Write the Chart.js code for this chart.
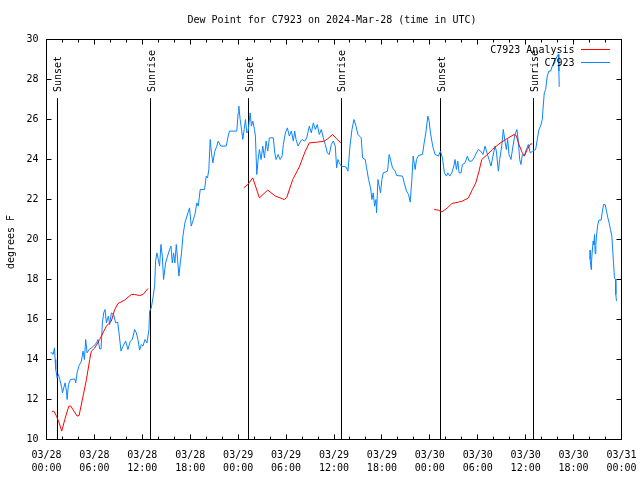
<!DOCTYPE html>
<html>
<head>
<meta charset="utf-8">
<script src="https://cdn.jsdelivr.net/npm/chart.js@4/dist/chart.umd.min.js"></script>
<style>
html,body{margin:0;padding:0;background:#fff;}
canvas{display:block;}
</style>
</head>
<body>
<canvas id="c" width="640" height="480"></canvas>
<script>
// ---- data (hours since 2024-03-28 00:00 UTC, degrees F) ----
const obsHours = [0.50,0.75,0.83,1.00,1.08,1.16,1.33,1.50,1.66,1.91,2.00,2.16,2.33,2.50,2.58,2.75,3.00,3.54,3.66,3.83,4.08,4.37,4.58,4.75,4.91,5.08,5.33,5.62,5.91,6.25,6.45,6.66,6.83,7.00,7.16,7.33,7.50,7.75,7.91,8.12,8.41,8.66,8.91,9.08,9.33,9.58,9.91,10.20,10.50,10.75,11.04,11.25,11.45,11.66,11.87,12.08,12.33,12.58,12.83,12.91,13.12,13.33,13.54,13.66,13.83,14.00,14.16,14.33,14.50,14.66,14.91,15.16,15.41,15.58,15.75,15.91,16.08,16.25,16.41,16.58,16.75,16.91,17.08,17.33,17.58,17.91,18.12,18.33,18.58,18.83,19.00,19.25,19.79,20.00,20.16,20.33,20.50,20.66,20.83,21.08,21.33,21.50,21.83,22.50,22.75,22.91,23.83,24.00,24.08,24.25,24.37,24.58,24.75,24.91,25.08,25.25,25.50,25.66,25.83,26.04,26.16,26.33,26.50,26.66,26.87,27.08,27.29,27.50,27.70,27.91,28.41,28.58,28.75,29.00,29.25,29.50,29.66,29.91,30.16,30.41,30.66,30.91,31.08,31.25,31.50,31.83,32.00,32.33,32.58,32.91,33.16,33.41,33.66,33.91,34.16,34.41,34.66,34.91,35.16,35.41,35.66,35.91,36.16,36.33,36.50,36.66,36.91,37.50,37.75,38.00,38.25,38.50,38.75,39.00,39.41,39.58,39.91,40.08,40.33,40.58,40.75,40.91,41.08,41.25,41.33,41.50,41.66,41.83,42.00,42.16,42.70,42.91,43.12,43.33,43.66,43.83,44.58,44.79,45.08,45.33,45.54,45.75,45.91,46.16,46.33,46.58,47.08,47.29,47.50,47.75,47.91,48.08,48.25,48.41,48.66,49.08,49.33,49.58,49.83,50.08,50.25,50.50,50.75,51.00,51.16,51.33,51.50,51.66,51.91,52.08,52.41,52.70,52.91,53.25,53.54,53.83,54.08,54.37,54.66,54.91,55.16,55.41,55.66,55.91,56.16,56.33,56.58,56.75,57.00,57.20,57.41,57.58,57.75,57.91,58.16,58.41,58.66,58.91,59.08,59.25,59.41,59.58,59.83,60.08,60.33,60.58,60.83,61.25,61.45,61.66,61.87,62.08,62.20,62.33,62.50,62.70,62.91,63.12,63.33,63.54,63.75,63.95,64.08,64.16,64.20,
  66.00,
  68.07,68.08,68.20,68.25,68.33,68.45,68.54,68.62,68.70,68.79,68.87,69.00,69.16,69.45,69.58,69.75,69.95,70.12,70.29,70.45,70.62,70.79,70.87,71.00,71.12,71.25,71.29,71.37];
const obsDewF = [14.33,14.33,14.25,14.58,14.00,13.50,13.08,13.25,13.00,12.58,12.33,12.58,12.83,12.42,12.00,12.75,13.00,13.03,12.83,13.33,13.70,13.92,14.42,14.00,15.00,14.33,14.50,14.58,14.67,14.83,15.00,14.53,14.53,15.83,16.33,16.50,15.83,16.17,15.75,16.33,16.25,15.83,15.87,15.33,14.42,14.67,14.92,14.50,14.92,15.00,15.50,15.33,15.00,14.47,14.75,14.67,15.00,14.83,15.50,16.42,16.58,17.08,17.67,18.92,19.33,19.00,18.67,19.75,19.17,18.00,18.83,19.17,19.50,19.67,18.83,19.33,18.83,19.75,19.00,18.17,18.83,19.33,20.17,20.83,21.17,21.58,20.67,20.92,21.25,21.83,21.67,22.50,22.50,23.17,23.08,23.50,25.00,24.33,23.83,24.42,24.67,24.92,24.67,24.67,25.17,25.42,25.42,26.33,26.67,26.00,25.67,25.00,25.50,26.00,25.33,25.42,26.33,25.67,25.92,25.50,25.17,23.25,24.00,24.50,24.00,24.67,24.08,24.92,24.42,25.08,25.08,24.33,24.00,24.25,24.00,24.17,24.75,25.33,25.58,25.17,25.42,24.92,25.42,25.00,24.67,24.92,25.00,24.92,25.08,25.67,25.33,25.83,25.50,25.75,25.25,25.50,25.08,24.75,24.33,24.25,24.75,24.92,24.67,23.58,24.00,23.83,23.67,23.63,23.42,24.67,25.50,26.00,25.67,25.25,25.08,24.08,24.00,23.58,23.00,22.58,22.00,22.33,21.67,22.00,21.33,23.00,22.67,22.33,23.00,23.33,23.42,24.25,23.92,23.58,23.42,23.20,23.17,22.83,22.42,22.25,21.87,23.00,24.17,23.50,24.00,24.20,24.25,24.83,25.33,26.17,25.92,25.33,24.92,24.58,24.25,24.17,24.42,24.08,23.33,23.17,23.33,23.17,23.33,23.67,24.00,23.50,23.92,23.33,23.33,23.75,23.83,24.17,23.92,23.92,24.08,24.33,24.50,24.42,24.25,24.67,24.33,24.00,23.67,24.17,24.67,24.42,23.42,24.00,24.67,25.50,24.92,24.50,25.00,24.25,24.00,24.67,25.25,25.50,24.92,24.00,23.75,24.25,24.17,24.50,24.75,24.33,24.40,24.50,25.00,25.50,25.67,26.00,26.67,27.33,27.50,28.17,28.42,28.42,28.67,28.75,29.00,29.17,29.25,28.42,27.63,
  null,
  19.47,19.00,18.50,18.92,19.37,19.92,19.75,20.25,19.30,19.75,20.17,20.67,20.97,20.97,21.33,21.75,21.75,21.42,21.08,20.83,20.50,20.17,19.67,18.83,18.08,18.00,17.25,16.92];

const anaHours = [0.66,0.91,1.25,1.50,1.91,2.29,2.79,3.04,3.83,4.08,4.58,5.00,5.41,5.62,6.04,6.66,7.50,8.12,8.54,8.95,9.79,10.62,11.04,11.66,12.08,12.70,
  18.0,
  24.70,25.20,25.83,26.66,27.70,28.66,29.79,30.08,30.83,31.66,32.08,32.41,32.91,33.95,34.79,35.20,35.83,36.33,36.87,
  42.0,
  48.54,49.04,49.54,50.20,50.75,51.58,52.08,52.83,53.33,53.75,54.16,54.50,55.20,55.83,56.66,57.50,58.54,58.83,59.08,59.58,59.87,60.20,60.62,60.83];
const anaDewF = [11.38,11.42,11.17,10.92,10.42,11.00,11.67,11.67,11.17,11.20,12.17,13.00,14.00,14.42,14.58,15.00,15.67,15.92,16.50,16.80,16.97,17.25,17.25,17.20,17.25,17.55,
  null,
  22.58,22.75,23.08,22.08,22.47,22.17,22.00,22.10,23.00,23.63,24.08,24.42,24.83,24.87,24.92,25.03,25.25,25.03,24.83,
  null,
  21.50,21.47,21.38,21.58,21.80,21.87,21.92,22.08,22.50,22.83,23.42,24.00,24.25,24.50,24.78,25.00,25.25,25.20,24.83,24.33,24.20,24.50,24.78,24.78];

const sunEventLabels = ['Sunset','Sunrise','Sunset','Sunrise','Sunset','Sunrise'];
const sunEventHours  = [1.377, 13.023, 25.294, 36.939, 49.336, 60.981];
const sunLineTop = 27.05;

const tickDates = ['03/28','03/28','03/28','03/28','03/29','03/29','03/29','03/29','03/30','03/30','03/30','03/30','03/31'];
const tickTimes = ['00:00','06:00','12:00','18:00','00:00','06:00','12:00','18:00','00:00','06:00','12:00','18:00','00:00'];

const titleText = 'Dew Point for C7923 on 2024-Mar-28 (time in UTC)';
const yAxisTitle = 'degrees F';
const seriesNames = ['C7923 Analysis', 'C7923'];
const seriesColors = ['#ff0000', '#0a84ff'];

// ---- build datasets ----
const toXY = (xs, ys) => xs.map((x, i) => ({x: x, y: ys[i]}));
const datasets = [
  {label: seriesNames[0], data: toXY(anaHours, anaDewF), borderColor: seriesColors[0], borderWidth: 1, pointRadius: 0, tension: 0, spanGaps: false},
  {label: seriesNames[1], data: toXY(obsHours, obsDewF), borderColor: seriesColors[1], borderWidth: 1, pointRadius: 0, tension: 0, spanGaps: false}
];
sunEventHours.forEach(h => {
  datasets.push({label: '_sun', data: [{x: h, y: sunLineTop}, {x: h, y: 10}], borderColor: '#000', borderWidth: 1, pointRadius: 0});
});

const FONT = '"DejaVu Sans Mono", "Liberation Mono", monospace';

const decor = {
  id: 'decor',
  afterDraw(chart) {
    const ctx = chart.ctx;
    const a = chart.chartArea;
    const xs = chart.scales.x, ys = chart.scales.y;
    ctx.save();
    ctx.strokeStyle = '#000';
    ctx.lineWidth = 1;
    // frame
    ctx.strokeRect(a.left, a.top, a.right - a.left, a.bottom - a.top);
    ctx.beginPath();
    // x ticks: major every 6h, minor every 2h
    for (let h = 0; h <= 72; h += 2) {
      const px = Math.round(xs.getPixelForValue(h) - 0.5) + 0.5;
      const len = (h % 6 === 0) ? 5 : 3;
      ctx.moveTo(px, a.bottom); ctx.lineTo(px, a.bottom - len);
      ctx.moveTo(px, a.top); ctx.lineTo(px, a.top + len);
    }
    for (let v = 10; v <= 30; v += 2) {
      const py = Math.round(ys.getPixelForValue(v) - 0.5) + 0.5;
      ctx.moveTo(a.left, py); ctx.lineTo(a.left + 5, py);
      ctx.moveTo(a.right, py); ctx.lineTo(a.right - 5, py);
    }
    ctx.stroke();

    ctx.fillStyle = '#000';
    ctx.font = '10px ' + FONT;
    // title
    ctx.textAlign = 'center';
    ctx.textBaseline = 'alphabetic';
    ctx.fillText(titleText, 332, 23.3);
    // y axis title
    ctx.save();
    ctx.translate(14.3, 242);
    ctx.rotate(-Math.PI / 2);
    ctx.fillText(yAxisTitle, 0, 0);
    ctx.restore();
    // sun event labels
    sunEventHours.forEach((h, i) => {
      const px = xs.getPixelForValue(h);
      ctx.save();
      ctx.translate(px + 4, 92);
      ctx.rotate(-Math.PI / 2);
      ctx.textAlign = 'left';
      ctx.fillText(sunEventLabels[i], 0, 0);
      ctx.restore();
    });
    // legend
    ctx.textAlign = 'right';
    seriesNames.forEach((name, i) => {
      const base = 53 + i * 12.7;
      ctx.fillStyle = '#000';
      ctx.fillText(name, 574.5, base);
      ctx.strokeStyle = seriesColors[i];
      ctx.beginPath();
      const ly = Math.round(base - 3.7) + 0.5;
      ctx.moveTo(581, ly); ctx.lineTo(610, ly);
      ctx.stroke();
    });
    ctx.restore();
  }
};

new Chart(document.getElementById('c'), {
  type: 'line',
  data: {datasets: datasets},
  options: {
    responsive: false,
    animation: false,
    devicePixelRatio: 1,
    layout: {padding: {left: 0, right: 18.5, top: 39.5, bottom: 0}},
    plugins: {legend: {display: false}, title: {display: false}, tooltip: {enabled: false}},
    scales: {
      x: {
        type: 'linear', min: 0, max: 72,
        grid: {display: false, drawTicks: false},
        border: {display: false},
        ticks: {
          stepSize: 6, autoSkip: false, maxRotation: 0, padding: 10,
          color: '#000', font: {family: FONT, size: 10, lineHeight: 1.27},
          callback: (v) => { const i = Math.round(v / 6); return [tickDates[i], tickTimes[i]]; }
        },
        afterFit: (s) => { s.height = 40.5; s.paddingLeft = 0; s.paddingRight = 0; }
      },
      y: {
        type: 'linear', min: 10, max: 30,
        grid: {display: false, drawTicks: false},
        border: {display: false},
        ticks: {stepSize: 2, padding: 8, color: '#000', font: {family: FONT, size: 10}},
        afterFit: (s) => { s.width = 46.5; s.paddingTop = 0; s.paddingBottom = 0; }
      }
    }
  },
  plugins: [decor]
});
</script>
</body>
</html>
